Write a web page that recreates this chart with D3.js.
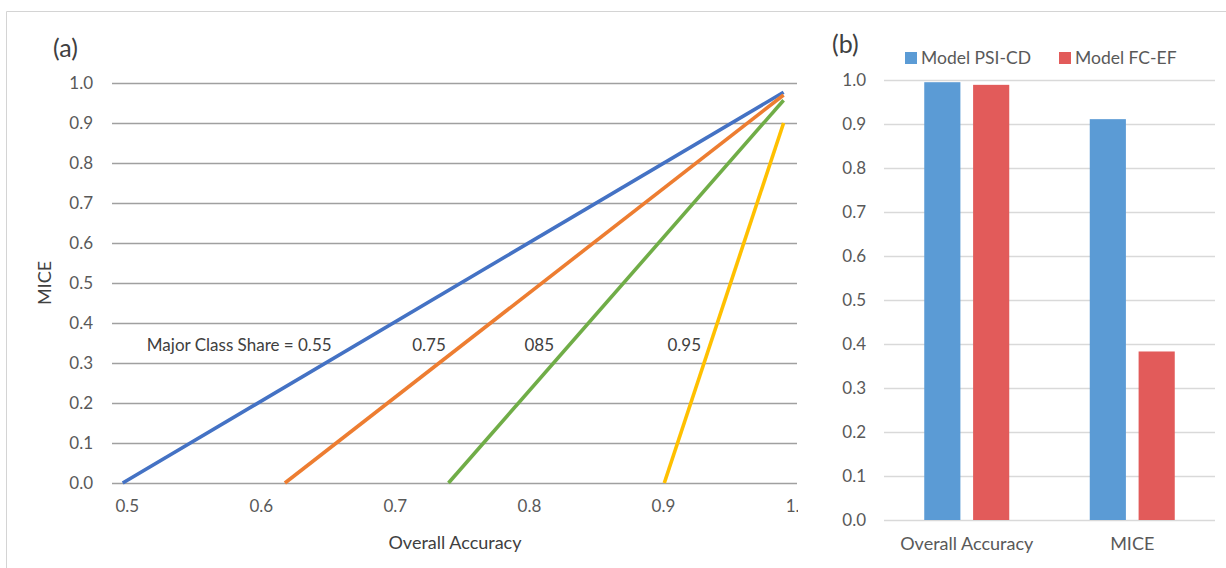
<!DOCTYPE html>
<html>
<head>
<meta charset="utf-8">
<script src="https://cdn.jsdelivr.net/npm/d3@7"></script>
<style>
  html, body { margin: 0; padding: 0; background: #fff; }
  svg { display: block; font-family: Lato, "Noto Sans", sans-serif; }
</style>
</head>
<body>
<svg id="chart" width="1226" height="568"></svg>
<script>
// ---- Panel (a): MICE vs overall accuracy for several major-class shares ----
const shareLabels = ["Major Class Share = 0.55", "0.75", "085", "0.95"];
const shareColors = ["#4472c4", "#ed7d31", "#70ad47", "#ffc000"];
const lineStartAccuracy = [0.497, 0.618, 0.740, 0.901];
const lineStartMice = [0, 0, 0, 0];
const lineEndAccuracy = [0.990, 0.990, 0.990, 0.990];
const lineEndMice = [0.977, 0.970, 0.957, 0.900];
const aXTicks = [0.5, 0.6, 0.7, 0.8, 0.9, 1.0];
const aYTicks = [0.0, 0.1, 0.2, 0.3, 0.4, 0.5, 0.6, 0.7, 0.8, 0.9, 1.0];

// ---- Panel (b): comparison of two models ----
const bCategories = ["Overall Accuracy", "MICE"];
const bSeries = ["Model PSI-CD", "Model FC-EF"];
const bColors = ["#5b9bd5", "#e25b5a"];
const psiCdValues = [0.995, 0.911];
const fcEfValues = [0.989, 0.383];
const bYTicks = [0.0, 0.1, 0.2, 0.3, 0.4, 0.5, 0.6, 0.7, 0.8, 0.9, 1.0];

const svg = d3.select("#chart");
const textColor = "#595959";
const titleColor = "#404040";
const tickFont = "17px";
const fmt = d3.format(".1f");

// outer frame lines
svg.append("line").attr("x1", 6.5).attr("x2", 1226).attr("y1", 11.5).attr("y2", 11.5)
  .attr("stroke", "#d4d4d4").attr("stroke-width", 1);
svg.append("line").attr("x1", 6.5).attr("x2", 6.5).attr("y1", 11.5).attr("y2", 568)
  .attr("stroke", "#d4d4d4").attr("stroke-width", 1);

// ===================== Panel (a) =====================
const aLeft = 112, aRight = 797, aTop = 83, aBottom = 483;
const xA = d3.scaleLinear().domain([0.489, 1.0]).range([aLeft, aRight]);
const yA = d3.scaleLinear().domain([0, 1]).range([aBottom, aTop]);

svg.append("defs").append("clipPath").attr("id", "clipA")
  .append("rect").attr("x", 0).attr("y", 0).attr("width", 798).attr("height", 568);

const gA = svg.append("g").attr("clip-path", "url(#clipA)");

// horizontal gridlines
gA.append("g").selectAll("line").data(aYTicks).join("line")
  .attr("x1", aLeft).attr("x2", aRight)
  .attr("y1", d => Math.round(yA(d)) + 0.5).attr("y2", d => Math.round(yA(d)) + 0.5)
  .attr("stroke", "#a0a0a0").attr("stroke-width", 1.4);

// y axis labels
const yAxisA = d3.axisLeft(yA).tickValues(aYTicks).tickFormat(fmt).tickSize(0).tickPadding(19);
const gyA = gA.append("g").attr("transform", `translate(${aLeft},0)`).call(yAxisA);
gyA.select(".domain").remove();
gyA.selectAll("text").attr("fill", textColor).style("font-size", tickFont).style("font-family", "Lato, 'Noto Sans', sans-serif");

// x axis labels
const xAxisA = d3.axisBottom(xA).tickValues(aXTicks).tickFormat(fmt).tickSize(0).tickPadding(17);
const gxA = gA.append("g").attr("transform", `translate(0,${aBottom})`).call(xAxisA);
gxA.select(".domain").remove();
gxA.selectAll("text").attr("fill", textColor).style("font-size", tickFont).style("font-family", "Lato, 'Noto Sans', sans-serif");

// straight lines, one per major-class share
const lineGen = d3.line().x(d => xA(d[0])).y(d => yA(d[1]));
const lineData = shareLabels.map((s, i) => [
  [lineStartAccuracy[i], lineStartMice[i]],
  [lineEndAccuracy[i], lineEndMice[i]]
]);
gA.append("g").selectAll("path").data(lineData).join("path")
  .attr("d", lineGen)
  .attr("fill", "none")
  .attr("stroke", (d, i) => shareColors[i])
  .attr("stroke-width", 3.6);

// share annotations along MICE = 0.35
const labelAccuracy = [0.515, 0.7255, 0.8077, 0.9159];
const labelAnchor = ["start", "middle", "middle", "middle"];
gA.append("g").selectAll("text").data(shareLabels).join("text")
  .attr("x", (d, i) => xA(labelAccuracy[i]))
  .attr("y", yA(0.345))
  .attr("dy", "0.35em")
  .attr("text-anchor", (d, i) => labelAnchor[i])
  .attr("fill", titleColor)
  .style("font-size", tickFont)
  .text(d => d);

// axis titles
svg.append("text").attr("x", 455).attr("y", 543).attr("dy", "0.35em")
  .attr("text-anchor", "middle").attr("fill", titleColor).style("font-size", "18px")
  .text("Overall Accuracy");
svg.append("text").attr("transform", "translate(45,283) rotate(-90)").attr("dy", "0.35em")
  .attr("text-anchor", "middle").attr("fill", titleColor).style("font-size", "18px")
  .text("MICE");
svg.append("text").attr("x", 53).attr("y", 48).attr("dy", "0.35em")
  .attr("fill", titleColor).style("font-size", "25px").text("(a)");

// ===================== Panel (b) =====================
const bLeft = 884, bRight = 1215, bTop = 80, bBottom = 520;
const yB = d3.scaleLinear().domain([0, 1]).range([bBottom, bTop]);
const x0B = d3.scaleBand().domain(bCategories).range([bLeft, bRight]).paddingInner(0).paddingOuter(0);
const x1B = d3.scaleBand().domain(bSeries).range([0, 85]).paddingInner(0.26).paddingOuter(0);

const gB = svg.append("g");

gB.append("g").selectAll("line").data(bYTicks).join("line")
  .attr("x1", bLeft).attr("x2", bRight)
  .attr("y1", d => Math.round(yB(d)) + 0.5).attr("y2", d => Math.round(yB(d)) + 0.5)
  .attr("stroke", "#d9d9d9").attr("stroke-width", 1.3);

const yAxisB = d3.axisLeft(yB).tickValues(bYTicks).tickFormat(fmt).tickSize(0).tickPadding(18);
const gyB = gB.append("g").attr("transform", `translate(${bLeft},0)`).call(yAxisB);
gyB.select(".domain").remove();
gyB.selectAll("text").attr("fill", textColor).style("font-size", tickFont).style("font-family", "Lato, 'Noto Sans', sans-serif");

const barRows = bCategories.map((c, i) => ({
  category: c,
  values: [psiCdValues[i], fcEfValues[i]]
}));

const groups = gB.append("g").selectAll("g").data(barRows).join("g")
  .attr("transform", d => `translate(${x0B(d.category) + x0B.bandwidth() / 2 - 42.5},0)`);
groups.selectAll("rect").data(d => d.values.map((v, j) => ({ series: bSeries[j], value: v, j })))
  .join("rect")
  .attr("x", d => x1B(d.series))
  .attr("width", x1B.bandwidth())
  .attr("y", d => yB(d.value))
  .attr("height", d => bBottom - yB(d.value))
  .attr("fill", d => bColors[d.j]);

const xAxisB = d3.axisBottom(x0B).tickSize(0).tickPadding(17);
const gxB = gB.append("g").attr("transform", `translate(0,${bBottom})`).call(xAxisB);
gxB.select(".domain").remove();
gxB.selectAll("text").attr("fill", textColor).style("font-size", "18px").style("font-family", "Lato, 'Noto Sans', sans-serif");

svg.append("text").attr("x", 832).attr("y", 44).attr("dy", "0.35em")
  .attr("fill", titleColor).style("font-size", "25px").text("(b)");

// legend
const legendX = [905, 1059];
const legend = svg.append("g").selectAll("g").data(bSeries).join("g")
  .attr("transform", (d, i) => `translate(${legendX[i]},52)`);
legend.append("rect").attr("width", 12).attr("height", 12).attr("fill", (d, i) => bColors[i]);
legend.append("text").attr("x", 16).attr("y", 6).attr("dy", "0.35em")
  .attr("fill", textColor).style("font-size", "17.5px").text(d => d);
</script>
</body>
</html>
